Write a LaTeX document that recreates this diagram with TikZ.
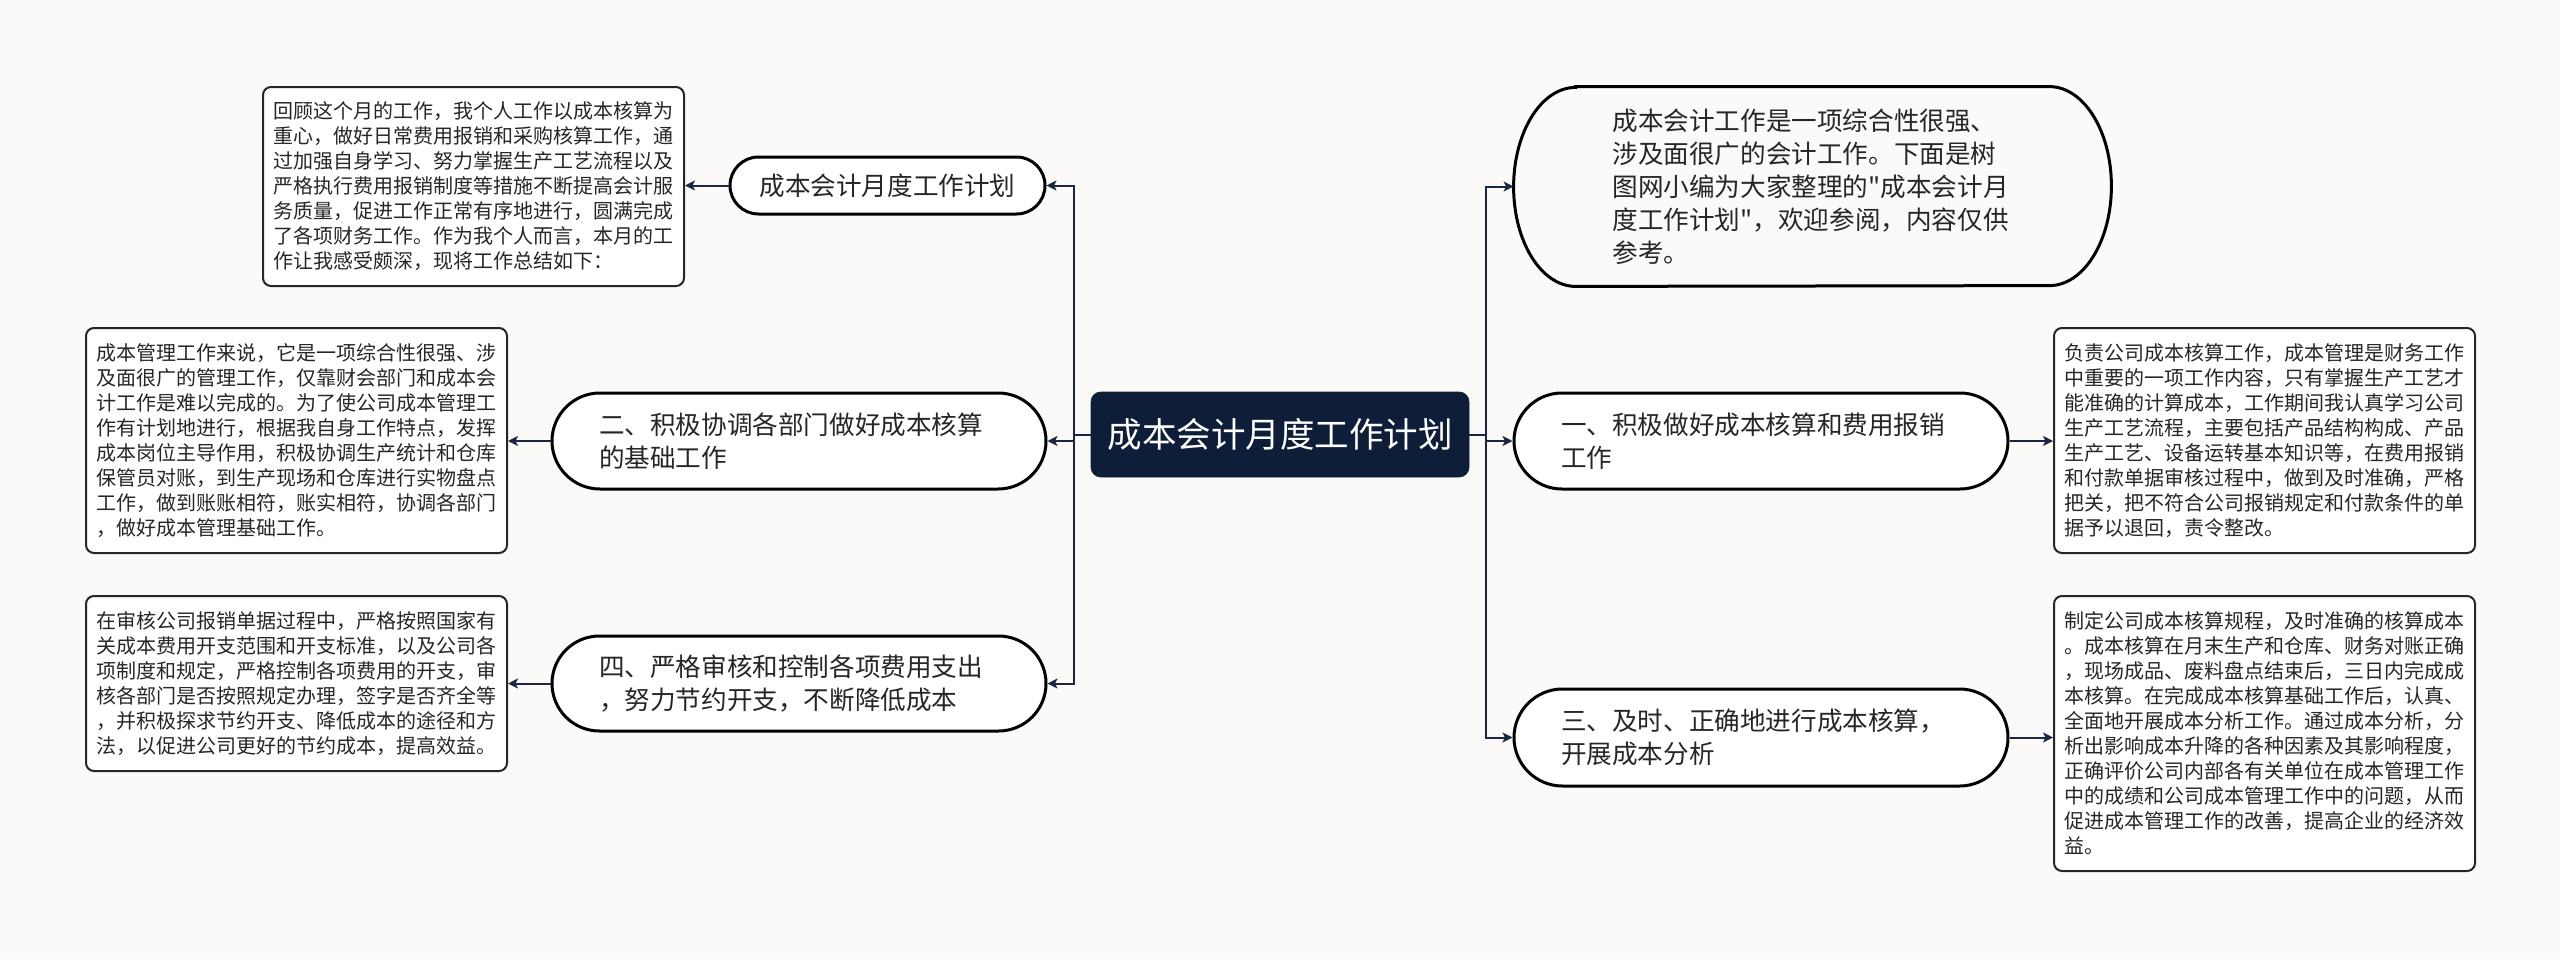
\documentclass[tikz,border=0pt]{standalone}
\usepackage{fontspec}
\newfontfamily\cjk{Noto Sans CJK SC}
\usetikzlibrary{shapes.misc,arrows.meta,positioning}
\definecolor{rootblue}{HTML}{0F1E38}
\definecolor{linkblue}{HTML}{1A2742}
\definecolor{paper}{HTML}{FCFAF9}
\definecolor{inktext}{HTML}{262626}

\begin{document}
\begin{tikzpicture}[x=0.5pt,y=-0.5pt,
  rootbox/.style={draw=rootblue, fill=rootblue, rounded corners=5pt, minimum width=189pt, minimum height=42.5pt, text=white, font=\cjk\fontsize{17.25}{20}\selectfont},
  topic/.style={rounded rectangle, draw=black, line width=1.5pt, fill=white, text=inktext, inner sep=0pt, font=\cjk\fontsize{12.8}{16.5}\selectfont},
  topicwide/.style={topic, text width=200pt, align=left, minimum width=247pt, minimum height=48pt},
  detail/.style={draw=black!85, line width=1pt, rounded corners=4pt, fill=white, text=inktext, text width=200pt, align=left, inner xsep=5.25pt, inner ysep=0pt, minimum width=210.5pt, font=\cjk\fontsize{10}{12.5}\selectfont},
  link/.style={draw=linkblue, line width=1pt, -{Stealth[length=5pt,width=5pt,inset=1.2pt]}}]
\useasboundingbox (0,0) rectangle (2560,959);
\fill[paper] (0,0) rectangle (2560,959);

% Centre
\node[rootbox] (root) at (1280,434.5) {成本会计月度工作计划};

% Left branch
\node[topic, minimum width=157.5pt, minimum height=28.5pt] (plan) at (887.5,185.5) {成本会计月度工作计划};
\node[topicwide] (coord) at (799,441) {二、积极协调各部门做好成本核算\\的基础工作};
\node[topicwide, minimum height=47.5pt] (audit) at (799,683.5) {四、严格审核和控制各项费用支出\\，努力节约开支，不断降低成本};

% Right branch
\node[rectangle, text=inktext, inner sep=0pt, font=\cjk\fontsize{12.8}{16.5}\selectfont, text width=200pt, align=left, minimum width=298.5pt, minimum height=99.5pt] (intro) at (1812.5,186.5) {成本会计工作是一项综合性很强、\\涉及面很广的会计工作。下面是树\\图网小编为大家整理的"成本会计月\\度工作计划"，欢迎参阅，内容仅供\\参考。};
\draw[line width=1.5pt] ([xshift=31pt]intro.north west) -- ([xshift=-31pt]intro.north east)
  arc[start angle=90, end angle=-90, x radius=31pt, y radius=49.75pt]
  -- ([xshift=31pt]intro.south west)
  arc[start angle=270, end angle=90, x radius=31pt, y radius=49.75pt] -- cycle;
\node[topicwide] (acct) at (1761,441) {一、积极做好成本核算和费用报销\\工作};
\node[topicwide, minimum height=48.5pt] (anal) at (1761,737.5) {三、及时、正确地进行成本核算，\\开展成本分析};

% Notes
\node[detail, minimum height=99.5pt] (plannote) at (473.5,186.5) {回顾这个月的工作，我个人工作以成本核算为\\重心，做好日常费用报销和采购核算工作，通\\过加强自身学习、努力掌握生产工艺流程以及\\严格执行费用报销制度等措施不断提高会计服\\务质量，促进工作正常有序地进行，圆满完成\\了各项财务工作。作为我个人而言，本月的工\\作让我感受颇深，现将工作总结如下：};
\node[detail, minimum height=112.5pt] (coordnote) at (296.5,440.5) {成本管理工作来说，它是一项综合性很强、涉\\及面很广的管理工作，仅靠财会部门和成本会\\计工作是难以完成的。为了使公司成本管理工\\作有计划地进行，根据我自身工作特点，发挥\\成本岗位主导作用，积极协调生产统计和仓库\\保管员对账，到生产现场和仓库进行实物盘点\\工作，做到账账相符，账实相符，协调各部门\\，做好成本管理基础工作。};
\node[detail, minimum height=87.5pt] (auditnote) at (296.5,683.5) {在审核公司报销单据过程中，严格按照国家有\\关成本费用开支范围和开支标准，以及公司各\\项制度和规定，严格控制各项费用的开支，审\\核各部门是否按照规定办理，签字是否齐全等\\，并积极探求节约开支、降低成本的途径和方\\法，以促进公司更好的节约成本，提高效益。};
\node[detail, minimum height=112.5pt] (acctnote) at (2264.5,440.5) {负责公司成本核算工作，成本管理是财务工作\\中重要的一项工作内容，只有掌握生产工艺才\\能准确的计算成本，工作期间我认真学习公司\\生产工艺流程，主要包括产品结构构成、产品\\生产工艺、设备运转基本知识等，在费用报销\\和付款单据审核过程中，做到及时准确，严格\\把关，把不符合公司报销规定和付款条件的单\\据予以退回，责令整改。};
\node[detail, minimum height=137.5pt] (analnote) at (2264.5,733.5) {制定公司成本核算规程，及时准确的核算成本\\。成本核算在月末生产和仓库、财务对账正确\\，现场成品、废料盘点结束后，三日内完成成\\本核算。在完成成本核算基础工作后，认真、\\全面地开展成本分析工作。通过成本分析，分\\析出影响成本升降的各种因素及其影响程度，\\正确评价公司内部各有关单位在成本管理工作\\中的成绩和公司成本管理工作中的问题，从而\\促进成本管理工作的改善，提高企业的经济效\\益。};

% Connections
\foreach \t in {plan,coord,audit}
  \draw[link] (root.west) -- ++(-17,0) |- (\t.east);
\foreach \t in {intro,acct,anal}
  \draw[link] (root.east) -- ++(17,0) |- (\t.west);
\foreach \t in {plan,coord,audit}
  \draw[link] (\t.west) -- (\t.west -| \t note.east);
\foreach \t in {acct,anal}
  \draw[link] (\t.east) -- (\t.east -| \t note.west);
\end{tikzpicture}
\end{document}
